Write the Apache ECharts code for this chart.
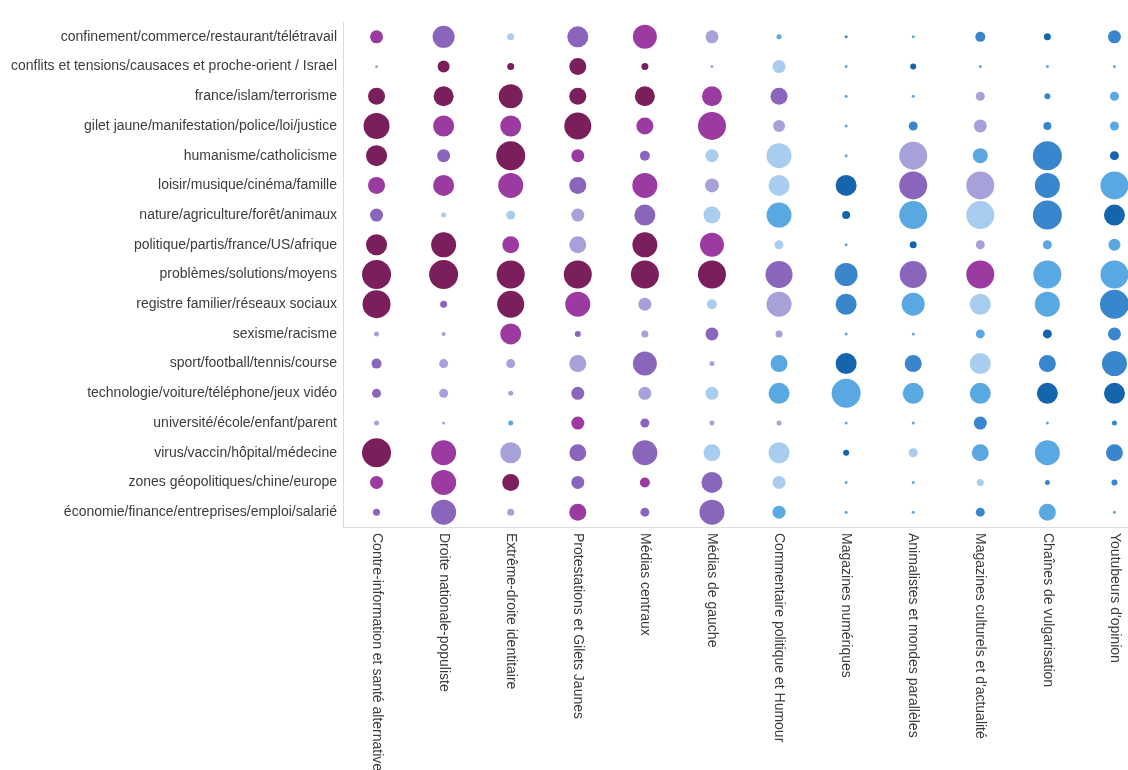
<!DOCTYPE html>
<html><head><meta charset="utf-8">
<script src="https://cdn.jsdelivr.net/npm/echarts@6/dist/echarts.min.js"></script>
<style>html,body{margin:0;padding:0;background:#fff}#c{width:1128px;height:770px}</style>
</head><body><div id="c"></div>
<script>
const channels = ["Contre-information et santé alternative","Droite nationale-populiste","Extrême-droite identitaire","Protestations et Gilets Jaunes","Médias centraux","Médias de gauche","Commentaire politique et Humour","Magazines numériques","Animalistes et mondes parallèles","Magazines culturels et d'actualité","Chaînes de vulgarisation","Youtubeurs d'opinion"];
const topics = ["confinement/commerce/restaurant/télétravail","conflits et tensions/causaces et proche-orient / Israel","france/islam/terrorisme","gilet jaune/manifestation/police/loi/justice","humanisme/catholicisme","loisir/musique/cinéma/famille","nature/agriculture/forêt/animaux","politique/partis/france/US/afrique","problèmes/solutions/moyens","registre familier/réseaux sociaux","sexisme/racisme","sport/football/tennis/course","technologie/voiture/téléphone/jeux vidéo","université/école/enfant/parent","virus/vaccin/hôpital/médecine","zones géopolitiques/chine/europe","économie/finance/entreprises/emploi/salarié"];
// bubble weight per topic (rows) x channel (columns)
const weights = [
  [13,22,7,21,24,13, 5,3,3,10,7,13],
  [3,12,7,17,7,3, 13,3,6,3,3,3],
  [17,20,24,17,20,20, 17,3,3,9,6,9],
  [26,21,21,27,17,28, 12,3,9,13,8,9],
  [21,13,29,13,10,13, 25,3,28,15,29,9],
  [17,21,25,17,25,14, 21,21,28,28,25,28],
  [13,5,9,13,21,17, 25,8,28,28,29,21],
  [21,25,17,17,25,24, 9,3,7,9,9,12],
  [29,29,28,28,28,28, 27,23,27,28,28,28],
  [28,7,27,25,13,10, 25,21,23,21,25,29],
  [5,4,21,6,7,13, 7,3,3,9,9,13],
  [10,9,9,17,24,5, 17,21,17,21,17,25],
  [9,9,5,13,13,13, 21,29,21,21,21,21],
  [5,3,5,13,9,5, 5,3,3,13,3,5],
  [29,25,21,17,25,17, 21,6,9,17,25,17],
  [13,25,17,13,10,21, 13,3,3,7,5,6],
  [7,25,7,17,9,25, 13,3,3,9,17,3]
];
// tone per cell: 0 dark blue ... 7 maroon
const tones = [
  [6,5,3,5,6,4, 2,1,2,1,0,1],
  [4,7,7,7,7,4, 3,2,0,2,2,2],
  [7,7,7,7,7,6, 5,2,2,4,1,2],
  [7,6,6,7,6,6, 4,2,1,4,1,2],
  [7,5,7,6,5,3, 3,2,4,2,1,0],
  [6,6,6,5,6,4, 3,0,5,4,1,2],
  [5,3,3,4,5,3, 2,0,2,3,1,0],
  [7,7,6,4,7,6, 3,2,0,4,2,2],
  [7,7,7,7,7,7, 5,1,5,6,2,2],
  [7,5,7,6,4,3, 4,1,2,3,2,1],
  [4,4,6,5,4,5, 4,2,2,2,0,1],
  [5,4,4,4,5,4, 2,0,1,3,1,1],
  [5,4,4,5,4,3, 2,2,2,2,0,0],
  [4,4,2,6,5,4, 4,2,2,1,2,1],
  [7,6,4,5,5,3, 3,0,3,2,2,1],
  [6,6,7,5,6,5, 3,2,2,3,1,1],
  [5,5,4,6,5,5, 2,2,2,1,2,2]
];
const data = [];
topics.forEach((t, r) => channels.forEach((c, k) => data.push([k, r, weights[r][k], tones[r][k]])));
const labelFont = {fontFamily: '"Liberation Sans", Arial, sans-serif', fontSize: 14, color: '#3c3c3c'};
const chart = echarts.init(document.getElementById('c'), null, {renderer: 'canvas'});
chart.setOption({
  animation: false,
  backgroundColor: '#fff',
  grid: {left: 343, top: 22, bottom: 243, right: -20, containLabel: false, outerBoundsMode: 'none'},
  xAxis: {type: 'category', data: channels, boundaryGap: true,
    axisLine: {lineStyle: {color: '#dcdcdc'}}, axisTick: {show: false}, splitLine: {show: false},
    axisLabel: Object.assign({rotate: -90, margin: 6, interval: 0}, labelFont)},
  yAxis: {type: 'category', data: topics, inverse: true, boundaryGap: true,
    axisLine: {lineStyle: {color: '#dcdcdc'}}, axisTick: {show: false}, splitLine: {show: false},
    axisLabel: Object.assign({margin: 6, interval: 0}, labelFont)},
  visualMap: [
    {show: false, dimension: 2, min: 3, max: 29, inRange: {symbolSize: [3, 29]}, seriesIndex: 0},
    {show: false, dimension: 3, min: 0, max: 7, seriesIndex: 0,
      inRange: {color: ['#1565ad','#3a86cc','#5aa8e2','#a8cdee','#a6a1d8','#8a65bc','#9b3aa0','#7b1e5c']}}
  ],
  series: [{type: 'scatter', data: data, itemStyle: {opacity: 1}}]
});
</script></body></html>
